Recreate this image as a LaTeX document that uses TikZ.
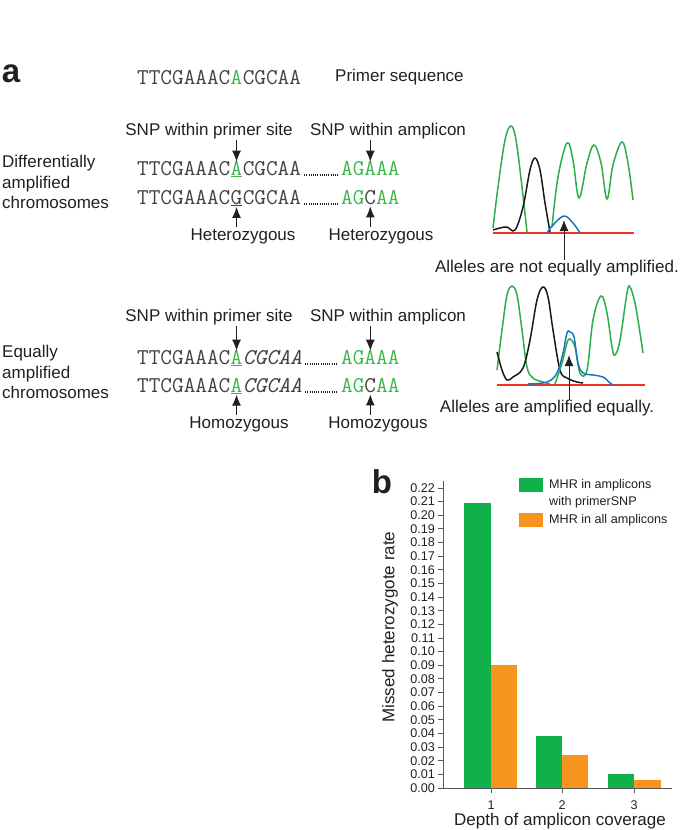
\documentclass[tikz,border=0pt]{standalone}
\usepackage{fontspec}
\setmainfont{Liberation Sans}
\usetikzlibrary{arrows.meta,calc}
\definecolor{txt}{HTML}{231F20}
\definecolor{seqgreen}{HTML}{3DB54A}
\definecolor{trgreen}{HTML}{2CAE4A}
\definecolor{trblue}{HTML}{1C75BC}
\definecolor{trred}{HTML}{EE3124}
\definecolor{bargreen}{HTML}{10B04A}
\definecolor{barorange}{HTML}{F7941D}
\definecolor{axisgray}{HTML}{58595B}
\newcommand\seqfont{\fontsize{22.6}{25}\selectfont\ttfamily}
\newcommand\labfont{\fontsize{17}{20.5}\selectfont}
\newcommand\tickfont{\fontsize{12.6}{14}\selectfont}

\begin{document}
\begin{tikzpicture}[
  x=1pt, y=-1pt,
  lab/.style={font=\labfont, text=txt, inner sep=0pt},
  side/.style={font=\labfont, text=txt, inner sep=0pt, anchor=west, align=left},
  seq/.style={font=\seqfont, text=txt!85, inner sep=0pt, anchor=base west},
  gseq/.style={seq, text=seqgreen},
  dotline/.style={txt, line width=1.1pt, dash pattern=on 0.9pt off 1.3pt},
  arr/.style={-{Latex[length=11pt,width=9pt]}, txt, line width=1pt},
  trace/.style={line width=1.5pt, smooth, tension=0.6},
  panel/.style={font=\fontsize{33}{36}\selectfont\bfseries, text=txt, inner sep=0pt},
  ticklab/.style={font=\tickfont, text=txt, inner sep=0pt},
  leg/.style={font=\tickfont, text=txt, inner sep=0pt, anchor=west}
]
\useasboundingbox (0,0) rectangle (685,830);

% panel a: primer
\node[panel] (pa) at (11,74) {a};
\node[seq] (p1) at (137,84) {TTCGAAAC};
\node[gseq] (p2) at (p1.base east) {A};
\node[seq] (p3) at (p2.base east) {CGCAA};
\node[lab, anchor=west] (plab) at (335,77) {Primer sequence};

% differentially amplified
\node[side] (dlab) at (2,182) {Differentially\\amplified\\chromosomes};
\node[lab] (snpp1) at (209,131) {SNP within primer site};
\node[lab] (snpa1) at (388,131) {SNP within amplicon};
\node[seq] (d1a) at (137,175) {TTCGAAAC};
\node[gseq] (d1x) at (d1a.base east) {\underline{A}};
\node[seq] (d1b) at (d1x.base east) {CGCAA};
\node[gseq] (d1t) at (341,175) {AGAAA};
\node[seq] (d2a) at (137,204) {TTCGAAAC};
\node[seq] (d2x) at (d2a.base east) {\underline{G}};
\node[seq] (d2b) at (d2x.base east) {CGCAA};
\node[gseq] (d2t) at (341,204) {AG\textcolor{txt!85}{C}AA};
\draw[dotline] ($(d1b.base east)+(3,0)$) -- ($(d1t.base west)+(-3,0)$);
\draw[dotline] ($(d2b.base east)+(3,0)$) -- ($(d2t.base west)+(-3,0)$);
\node[lab] (het1) at (243,236) {Heterozygous};
\node[lab] (het2) at (381,236) {Heterozygous};
\draw[arr] (snpp1.south -| d1x.north) ++(0,1) -- ([yshift=-1pt]d1x.north);
\draw[arr] (snpa1.south -| d1t.north) ++(0,1) -- ([yshift=-1pt]d1t.north);
\draw[arr] (het1.north -| d2x.south) ++(0,-1) -- ([yshift=-0.5pt]d2x.south);
\draw[arr] (het2.north -| d2t.south) ++(0,-1) -- ([yshift=-2pt]d2t.south);

% equally amplified
\node[side] (elab) at (2,372) {Equally\\amplified\\chromosomes};
\node[lab] (snpp2) at (209,317) {SNP within primer site};
\node[lab] (snpa2) at (388,317) {SNP within amplicon};
\node[seq] (e1a) at (137,364) {TTCGAAAC};
\node[gseq] (e1x) at (e1a.base east) {\underline{A}};
\node[seq] (e1b) at (e1x.base east) {\itshape CGCAA};
\node[gseq] (e1t) at (341,364) {AGAAA};
\node[seq] (e2a) at (137,392) {TTCGAAAC};
\node[gseq] (e2x) at (e2a.base east) {\underline{A}};
\node[seq] (e2b) at (e2x.base east) {\itshape CGCAA};
\node[gseq] (e2t) at (341,392) {AG\textcolor{txt!85}{C}AA};
\draw[dotline] ($(e1b.base east)+(3,0)$) -- ($(e1t.base west)+(-3,0)$);
\draw[dotline] ($(e2b.base east)+(3,0)$) -- ($(e2t.base west)+(-3,0)$);
\node[lab] (hom1) at (239,424) {Homozygous};
\node[lab] (hom2) at (378,424) {Homozygous};
\draw[arr] (snpp2.south -| e1x.north) ++(0,1) -- ([yshift=-1pt]e1x.north);
\draw[arr] (snpa2.south -| e1t.north) ++(0,1) -- ([yshift=-1pt]e1t.north);
\draw[arr] (hom1.north -| e2x.south) ++(0,-1) -- ([yshift=-0.5pt]e2x.south);
\draw[arr] (hom2.north -| e2t.south) ++(0,-1) -- ([yshift=-2pt]e2t.south);

% chromatogram, not equal
\draw[trred, line width=1.3pt] (493,233) -- (634,233);
\draw[trace, trgreen] plot coordinates {(493,228) (498,187) (505,140) (511,126) (516,140) (522,187) (527,232)};
\draw[trace, trgreen] plot coordinates {(552,227) (558,177) (567,143) (573,160) (579,198) (587,163) (594,145) (601,163) (607,199) (613,165) (622,142) (628,163) (633,200)};
\draw[trace, black!90] plot coordinates {(493,230) (500,228) (507,227) (515,230) (523,207) (530,170) (535,158) (540,170) (545,203) (550,232)};
\draw[trace, trblue] plot coordinates {(547,233) (553,225) (564,216) (573,223) (580,233)};
\node[lab] (neq) at (557,268) {Alleles are not equally amplified.};
\draw[arr] (neq.north -| 564,0) -- (564,220);

% chromatogram, equal
\draw[trred, line width=1.3pt] (497,385) -- (645,385);
\draw[trace, trgreen] plot coordinates {(497,370) (502,330) (507,295) (512,286) (517,295) (522,330) (527,367) (533,378) (543,382) (550,384)};
\draw[trace, black!90] plot coordinates {(497,352) (502,370) (507,380) (513,377) (523,368) (530,340) (537,300) (543,287) (548,297) (553,330) (560,370) (567,378) (577,382) (583,383)};
\draw[trace, trgreen] plot coordinates {(555,384) (562,363) (567,343) (570,339) (575,347) (580,373) (587,370) (593,320) (601,296) (607,313) (612,347) (615,355) (620,340) (627,293) (630,287) (635,303) (640,333) (643,353)};
\draw[trace, trblue] plot coordinates {(528,384) (547,382) (557,373) (563,353) (567,333) (570,332) (574,337) (578,363) (583,373) (593,375) (603,377) (610,383) (613,385)};
\node[lab] (eq) at (547,408) {Alleles are amplified equally.};
\draw[arr] (eq.north -| 569,0) -- (569,355);

% panel b: bar chart
\node[panel] (pb) at (382,482) {b};
\draw[axisgray, line width=0.9pt] (443,481) -- (443,788) -- (672,788);
\foreach \i in {0,...,22} {
  \pgfmathsetmacro\yy{788-13.636*\i}
  \draw[axisgray, line width=0.9pt] (438,\yy) -- (443,\yy);
  \node[ticklab, anchor=east] at (435,\yy) {\ifnum\i<10 0.0\i\else 0.\i\fi};
}
\foreach \x/\n in {491/1,562/2,634/3} {
  \draw[axisgray, line width=0.9pt] (\x,788) -- (\x,793);
  \node[ticklab] at (\x,805) {\n};
}
\fill[bargreen] (464,788) rectangle (491,502.6);
\fill[barorange] (491,788) rectangle (517,665.3);
\fill[bargreen] (536,788) rectangle (562,736.2);
\fill[barorange] (562,788) rectangle (588,755.3);
\fill[bargreen] (608,788) rectangle (634,774.4);
\fill[barorange] (634,788) rectangle (661,779.8);
\node[lab] (xlab) at (560,821) {Depth of amplicon coverage};
\node[lab, rotate=90] (ylab) at (390,627) {Missed heterozygote rate};
% legend
\fill[bargreen] (519,478) rectangle (543,492);
\node[leg] (lg1) at (549,485) {MHR in amplicons};
\node[leg] (lg1b) at (549,502) {with primerSNP};
\fill[barorange] (519,513) rectangle (543,527);
\node[leg] (lg2) at (549,520) {MHR in all amplicons};
\end{tikzpicture}
\end{document}
